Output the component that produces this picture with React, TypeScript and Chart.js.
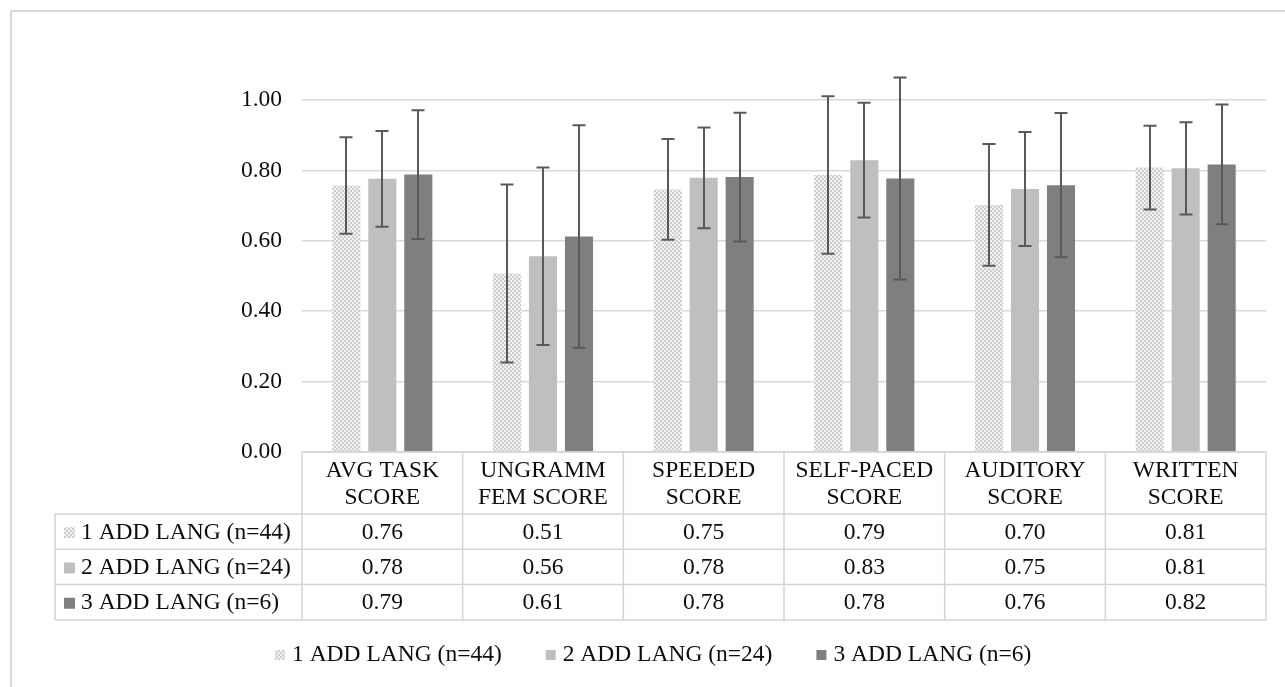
import { useEffect, useRef } from "react";
import { Chart, registerables } from "chart.js";
Chart.register(...registerables);

const categories = [
  ["AVG TASK", "SCORE"],
  ["UNGRAMM", "FEM SCORE"],
  ["SPEEDED", "SCORE"],
  ["SELF-PACED", "SCORE"],
  ["AUDITORY", "SCORE"],
  ["WRITTEN", "SCORE"],
];
const seriesNames = ["1 ADD LANG (n=44)", "2 ADD LANG (n=24)", "3 ADD LANG (n=6)"];
const lang1 = [0.757, 0.507, 0.746, 0.787, 0.702, 0.808];
const lang2 = [0.776, 0.556, 0.779, 0.829, 0.747, 0.806];
const lang3 = [0.788, 0.612, 0.781, 0.777, 0.758, 0.817];
const err1 = [0.137, 0.253, 0.143, 0.224, 0.173, 0.119];
const err2 = [0.136, 0.252, 0.143, 0.163, 0.162, 0.131];
const err3 = [0.183, 0.316, 0.183, 0.287, 0.205, 0.17];
const yMin = 0;
const yMax = 1.0;
const yStep = 0.2;

const FONT = '"Liberation Serif", "Times New Roman", serif';
const FS = 23.5;
const TEXT = "#0d0d0d";
const LINE = "#d4d4d4";

function makePattern(): CanvasPattern | string {
  const c = document.createElement("canvas");
  c.width = 4;
  c.height = 4;
  const g = c.getContext("2d");
  if (!g) return "#dedede";
  g.fillStyle = "#f2f2f2";
  g.fillRect(0, 0, 4, 4);
  g.fillStyle = "#cdcdcd";
  g.fillRect(0, 0, 2, 2);
  g.fillRect(2, 2, 2, 2);
  return g.createPattern(c, "repeat") || "#dedede";
}

export default function App() {
  const ref = useRef<HTMLCanvasElement>(null);
  useEffect(() => {
    document.body.style.margin = "0";
    const canvas = ref.current!;
    const pattern = makePattern();
    const colors: any[] = [pattern, "#bfbfbf", "#7f7f7f"];
    const errs = [err1, err2, err3];
    const values = [lang1, lang2, lang3];

    const errorBars = {
      id: "errorBars",
      afterDatasetsDraw(chart: any) {
        const ctx = chart.ctx;
        const y = chart.scales.y;
        ctx.save();
        ctx.strokeStyle = "#595959";
        ctx.lineWidth = 2;
        chart.data.datasets.forEach((ds: any, di: number) => {
          const meta = chart.getDatasetMeta(di);
          meta.data.forEach((bar: any, i: number) => {
            const v = ds.data[i];
            const e = errs[di][i];
            const yt = y.getPixelForValue(v + e);
            const yb = y.getPixelForValue(v - e);
            const x = Math.round(bar.x);
            ctx.beginPath();
            ctx.moveTo(x, yt);
            ctx.lineTo(x, yb);
            ctx.moveTo(x - 6.5, yt);
            ctx.lineTo(x + 6.5, yt);
            ctx.moveTo(x - 6.5, yb);
            ctx.lineTo(x + 6.5, yb);
            ctx.stroke();
          });
        });
        ctx.restore();
      },
    };

    const tableAndLegend = {
      id: "tableAndLegend",
      afterDraw(chart: any) {
        const ctx = chart.ctx;
        const area = chart.chartArea;
        const left = area.left;
        const right = area.right;
        const top = area.bottom;
        const n = categories.length;
        const cw = (right - left) / n;
        const headerBottom = top + 62;
        const rowH = 35.3;
        const labelLeft = 55;
        const tableBottom = headerBottom + rowH * 3;
        ctx.save();
        // outer frame
        ctx.strokeStyle = "#d9d9d9";
        ctx.lineWidth = 2;
        ctx.beginPath();
        ctx.moveTo(11, 687);
        ctx.lineTo(11, 11);
        ctx.lineTo(1285, 11);
        ctx.stroke();

        // table lines
        ctx.strokeStyle = LINE;
        ctx.lineWidth = 1.5;
        ctx.beginPath();
        ctx.moveTo(left, top);
        ctx.lineTo(right, top);
        for (let r = 0; r <= 3; r++) {
          const yy = headerBottom + r * rowH;
          ctx.moveTo(labelLeft, yy);
          ctx.lineTo(right, yy);
        }
        for (let i = 0; i <= n; i++) {
          const xx = left + i * cw;
          ctx.moveTo(xx, top);
          ctx.lineTo(xx, tableBottom);
        }
        ctx.moveTo(labelLeft, headerBottom);
        ctx.lineTo(labelLeft, tableBottom);
        ctx.stroke();

        ctx.fillStyle = TEXT;
        ctx.font = `${FS}px ${FONT}`;
        ctx.textAlign = "center";
        ctx.textBaseline = "middle";
        const xs = chart.scales.x;
        categories.forEach((lines, i) => {
          const cx = xs.getPixelForValue(i);
          lines.forEach((ln, li) => {
            ctx.fillText(ln, cx, top + 19 + li * 27);
          });
        });
        // rows
        for (let r = 0; r < 3; r++) {
          const cy = headerBottom + r * rowH + rowH / 2 + 1;
          ctx.fillStyle = colors[r];
          ctx.fillRect(64, cy - 5.5, 11, 11);
          ctx.fillStyle = TEXT;
          ctx.textAlign = "left";
          ctx.fillText(seriesNames[r], 81, cy);
          ctx.textAlign = "center";
          values[r].forEach((v, i) => {
            ctx.fillText(v.toFixed(2), xs.getPixelForValue(i), cy);
          });
        }

        // bottom legend
        const ly = 655;
        const widths = seriesNames.map((s) => ctx.measureText(s).width);
        let lx = 275;
        ctx.textAlign = "left";
        seriesNames.forEach((s, i) => {
          ctx.fillStyle = colors[i];
          ctx.fillRect(lx, ly - 5, 10, 10);
          ctx.fillStyle = TEXT;
          ctx.fillText(s, lx + 17, ly);
          lx += 17 + widths[i] + 44;
        });
        ctx.restore();
      },
    };

    const chart = new Chart(canvas, {
      type: "bar",
      data: {
        labels: categories,
        datasets: [
          { label: seriesNames[0], data: lang1, backgroundColor: colors[0] },
          { label: seriesNames[1], data: lang2, backgroundColor: colors[1] },
          { label: seriesNames[2], data: lang3, backgroundColor: colors[2] },
        ],
      },
      options: {
        animation: false,
        responsive: false,
        maintainAspectRatio: false,
        layout: { padding: { left: 242, right: 19, top: 100, bottom: 235 } },
        datasets: { bar: { categoryPercentage: 0.672, barPercentage: 0.78 } },
        plugins: { legend: { display: false }, tooltip: { enabled: false } },
        scales: {
          x: { display: false },
          y: {
            min: yMin,
            max: yMax,
            afterFit: (s: any) => {
              s.width = 60;
            },
            border: { display: false },
            grid: { color: "#d9d9d9", lineWidth: 1.5, drawTicks: false },
            ticks: {
              stepSize: yStep,
              padding: 20,
              color: TEXT,
              font: { family: FONT, size: FS },
              callback: (v: any) => Number(v).toFixed(2),
            },
          },
        },
      },
      plugins: [errorBars, tableAndLegend],
    });
    return () => chart.destroy();
  }, []);
  return (
    <div style={{ width: 1285, height: 687 }}>
      <canvas ref={ref} width={1285} height={687} style={{ display: "block" }} />
    </div>
  );
}
